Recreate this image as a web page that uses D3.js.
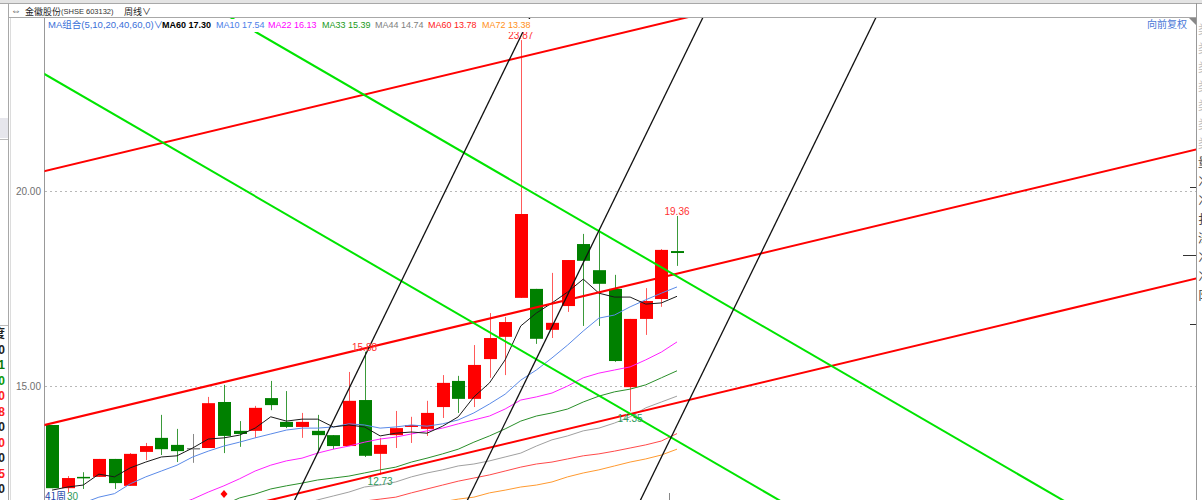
<!DOCTYPE html>
<html>
<head>
<meta charset="utf-8">
<script src="https://cdn.jsdelivr.net/npm/d3@7"></script>
<style>
  html, body { margin: 0; padding: 0; background: #fff; }
  svg { display: block; font-family: "Liberation Sans", "Noto Sans CJK SC", sans-serif; }
</style>
</head>
<body>
<div id="chart"></div>
<script>
// weekly candles (index 0 = leftmost visible week)
var opens  = [14.00,12.38,12.67,12.67,13.13,12.44,13.31,13.67,13.49,13.41,13.41,14.59,13.85,13.85,14.69,14.08,13.95,13.85,13.74,13.46,14.64,13.26,13.74,13.95,13.90,14.46,15.13,14.67,15.69,16.26,17.26,17.49,16.44,17.05,18.64,17.97,17.49,14.97,16.72,17.23,18.46];
var closes = [12.38,12.64,12.66,13.13,12.51,13.26,13.46,13.38,13.33,13.41,14.56,13.72,13.77,14.44,14.51,13.95,14.08,13.74,13.46,14.62,13.21,13.49,13.92,14.00,14.31,15.08,14.67,15.54,16.23,16.64,19.41,16.21,16.62,18.23,18.21,17.62,15.64,16.72,17.18,18.49,18.41];
var highs  = [14.00,12.69,12.79,13.13,13.13,13.28,13.54,14.26,13.90,13.77,14.72,15.03,14.10,14.49,15.13,14.87,14.31,14.26,13.74,15.36,15.88,13.67,14.36,14.21,14.62,15.28,15.26,16.05,16.87,16.77,23.87,17.49,17.90,18.23,18.90,19.03,17.85,16.72,17.51,18.51,19.36];
var lows   = [12.38,12.26,12.36,12.67,12.36,12.44,13.10,13.23,13.05,13.03,13.41,13.28,13.44,13.67,14.38,13.92,13.67,13.28,13.38,13.46,13.18,12.73,13.41,13.54,13.72,14.18,14.31,14.46,15.21,15.28,17.26,16.08,16.23,16.90,16.54,16.54,15.62,14.35,16.31,17.03,18.08];

// moving averages (null = below the visible area)
var maBlack  = [12.33,12.41,12.46,12.74,12.67,12.90,13.05,13.18,13.21,13.41,13.64,13.67,13.74,13.92,14.21,14.10,14.15,14.15,13.95,14.00,13.95,13.72,13.79,13.82,13.79,13.97,14.21,14.72,15.08,15.67,16.54,16.87,17.13,17.41,17.74,17.38,17.28,17.28,17.10,17.13,17.30];
var maBlue   = [null,null,12.00,12.15,12.24,12.49,12.67,12.82,12.97,13.18,13.33,13.46,13.56,13.67,13.77,13.87,13.92,13.92,13.95,14.03,14.00,13.92,13.95,14.00,13.97,14.03,14.13,14.31,14.54,14.79,15.15,15.41,15.72,16.05,16.41,16.74,16.82,17.03,17.21,17.38,17.54];
var maPink   = [null,null,null,null,null,null,null,null,11.95,12.10,12.28,12.44,12.62,12.82,12.97,13.08,13.15,13.28,13.38,13.46,13.56,13.64,13.69,13.77,13.85,13.92,14.03,14.13,14.23,14.41,14.64,14.72,14.82,15.00,15.21,15.33,15.41,15.49,15.67,15.87,16.13];
var maGreen  = [null,null,null,null,null,null,null,null,null,null,null,11.95,12.13,12.23,12.36,12.44,12.51,12.59,12.64,12.69,12.77,12.85,12.92,13.05,13.15,13.26,13.38,13.56,13.72,13.90,14.10,14.23,14.31,14.41,14.59,14.74,14.85,14.92,15.03,15.21,15.39];
var maGray   = [null,null,null,null,null,null,null,null,null,null,null,null,null,null,null,null,11.97,12.08,12.18,12.28,12.41,12.46,12.54,12.67,12.77,12.85,12.95,13.00,13.08,13.18,13.28,13.46,13.62,13.72,13.85,13.92,14.05,14.21,14.44,14.59,14.74];
var maRed    = [null,null,null,null,null,null,null,null,null,null,null,null,null,null,null,null,null,null,null,11.96,12.05,12.10,12.15,12.26,12.36,12.46,12.56,12.64,12.72,12.82,12.92,13.00,13.05,13.13,13.21,13.26,13.33,13.41,13.49,13.59,13.78];
var maOrange = [null,null,null,null,null,null,null,null,null,null,null,null,null,null,null,null,null,null,null,null,null,null,null,null,11.96,12.03,12.10,12.15,12.26,12.33,12.41,12.46,12.54,12.67,12.77,12.85,12.95,13.05,13.13,13.23,13.38];

// legend
var legendNames  = ['MA60','MA10','MA22','MA33','MA44','MA60','MA72'];
var legendValues = ['17.30','17.54','16.13','15.39','14.74','13.78','13.38'];

// drawn trend lines: [week index, price] endpoints
var redChannel   = [[[-1,20.46],[74,27.65]], [[-1,13.95],[74,21.14]], [[-1,10.64],[74,17.83]]];
var greenChannel = [[[-1,27.34],[74,9.91]], [[-1,23.12],[74,5.69]]];
var blackFan     = [[[14,10.82],[32,25.61]], [[25,10.77],[43,25.55]], [[36,10.71],[54,25.49]]];

// marked extremes
var markIndex = [30,40,20,21,37];
var markValue = ['23.87','19.36','15.88','12.73','14.35'];
var markIsHigh = [true,true,true,false,false];

var yTicks = [20, 15];

var W = 1202, H = 500;
var plotL = 44, plotR = 1196, plotT = 18, plotB = 500;

var svg = d3.select('#chart').append('svg')
	.attr('width', W)
	.attr('height', H);

svg.append('rect').attr('width', W).attr('height', H).attr('fill', '#fff');

var x = d3.scaleLinear().domain([0, 40]).range([52, 677]);
var y = d3.scaleLinear().domain([15, 20]).range([386, 191]);

svg.append('clipPath').attr('id', 'plotclip')
	.append('rect')
	.attr('x', plotL + 0.5).attr('y', plotT)
	.attr('width', plotR - plotL - 0.5).attr('height', plotB - plotT);

// top strip and title row
svg.append('rect').attr('x', 0).attr('y', 0).attr('width', W).attr('height', 3).attr('fill', '#e4e4e4');
svg.append('line').attr('x1', 0).attr('x2', W).attr('y1', 3.5).attr('y2', 3.5).attr('stroke', '#a8a8a8');
svg.append('line').attr('x1', 8).attr('x2', plotR).attr('y1', 17.5).attr('y2', 17.5).attr('stroke', '#a8a8a8');
svg.append('text').attr('x', 11).attr('y', 14).attr('font-size', 10).attr('fill', '#333').text('⇔');
svg.append('text').attr('x', 25).attr('y', 14.5)
	.attr('font-family', '"Noto Sans CJK SC", sans-serif').attr('font-size', 9).attr('fill', '#222')
	.text('金徽股份');
svg.append('text').attr('x', 61).attr('y', 14).attr('font-size', 7.5).attr('fill', '#333').text('(SHSE 603132)');
svg.append('text').attr('x', 124).attr('y', 14.5)
	.attr('font-family', '"Noto Sans CJK SC", sans-serif').attr('font-size', 9).attr('fill', '#222')
	.text('周线∨');

// left edge panels
svg.append('line').attr('x1', 8.5).attr('x2', 8.5).attr('y1', 3).attr('y2', H).attr('stroke', '#a8a8a8');
svg.append('line').attr('x1', 10.5).attr('x2', 10.5).attr('y1', 18).attr('y2', H).attr('stroke', '#dcdcdc');
svg.append('rect').attr('x', 0).attr('y', 118).attr('width', 8).attr('height', 20).attr('fill', '#e6e6ec');
svg.append('line').attr('x1', 0).attr('x2', 8).attr('y1', 139.5).attr('y2', 139.5).attr('stroke', '#bbb');
svg.append('line').attr('x1', 0).attr('x2', 8).attr('y1', 325.5).attr('y2', 325.5).attr('stroke', '#bbb');
var leftDigits = ['度','0','1','0','0','8','0','0','0','5','0'];
var leftColors = ['#222','#222','#0a7a0a','#0a9a0a','#ff2020','#ff2020','#222','#ff2020','#222','#ff2020','#222'];
svg.selectAll('.ld').data(leftDigits).enter().append('text')
	.attr('class', 'ld')
	.attr('x', 5).attr('y', function(d, i) { return 338 + i * 15.5; })
	.attr('text-anchor', 'end').attr('font-size', 12).attr('font-weight', 'bold')
	.attr('fill', function(d, i) { return leftColors[i]; })
	.text(function(d) { return d; });

// axis line and grid
svg.append('line').attr('x1', plotL + 0.5).attr('x2', plotL + 0.5).attr('y1', plotT).attr('y2', H).attr('stroke', '#999');
svg.append('line').attr('x1', plotR + 0.5).attr('x2', plotR + 0.5).attr('y1', 3).attr('y2', H).attr('stroke', '#999');

svg.selectAll('.grid').data(yTicks).enter().append('line')
	.attr('class', 'grid')
	.attr('x1', plotL + 1).attr('x2', plotR)
	.attr('y1', function(d) { return Math.round(y(d)) + 0.5; })
	.attr('y2', function(d) { return Math.round(y(d)) + 0.5; })
	.attr('stroke', '#b8b8b8').attr('stroke-dasharray', '2,3');

svg.selectAll('.ylab').data(yTicks).enter().append('text')
	.attr('class', 'ylab')
	.attr('x', 41).attr('y', function(d) { return y(d) + 3.5; })
	.attr('text-anchor', 'end').attr('font-size', 10).attr('fill', '#707070')
	.text(function(d) { return d3.format('.2f')(d); });

// right-side ticks and panel
[187, 255, 324].forEach(function(v, i) {
	svg.append('line').attr('x1', i == 1 ? 1183 : 1190).attr('x2', plotR)
		.attr('y1', v + 0.5).attr('y2', v + 0.5).attr('stroke', '#333');
});
var rightChars = ['类','类','类','类','类','类','类','量','冫','冫','扌','涤','冫','冫','阝'];
svg.selectAll('.rc').data(rightChars).enter().append('text')
	.attr('class', 'rc')
	.attr('x', 1198).attr('y', function(d, i) { return 34 + i * 19; })
	.attr('font-family', '"Noto Sans CJK SC", sans-serif').attr('font-size', 12)
	.attr('fill', function(d, i) { return i < 7 ? '#bbb' : '#444'; })
	.text(function(d) { return d; });
svg.append('path').attr('d', 'M1189,18L1196,18L1196,25Z').attr('fill', '#888');
svg.append('text').attr('x', 1187).attr('y', 28).attr('text-anchor', 'end')
	.attr('font-family', '"Noto Sans CJK SC", sans-serif').attr('font-size', 10).attr('fill', '#4a78d8')
	.text('向前复权');

var plot = svg.append('g').attr('clip-path', 'url(#plotclip)');

// candles
var idx = d3.range(opens.length);
function candleColor(i) {
	if (closes[i] > opens[i]) return '#ff0000';
	if (closes[i] < opens[i]) return '#008000';
	return '#888888';
}
function wickColor(i) {
	if (closes[i] > opens[i]) return '#ff5a5a';
	if (closes[i] < opens[i]) return '#3a9a3a';
	return '#888888';
}
var candle = plot.selectAll('.candle').data(idx).enter().append('g').attr('class', 'candle');
candle.append('line')
	.attr('x1', function(i) { return Math.round(x(i)) + 0.5; })
	.attr('x2', function(i) { return Math.round(x(i)) + 0.5; })
	.attr('y1', function(i) { return y(highs[i]); })
	.attr('y2', function(i) { return y(lows[i]); })
	.attr('stroke', wickColor).attr('stroke-width', 1);
candle.append('rect')
	.attr('x', function(i) { return Math.round(x(i)) - 6; })
	.attr('width', 13)
	.attr('y', function(i) { return y(Math.max(opens[i], closes[i])); })
	.attr('height', function(i) { return Math.max(1.5, Math.abs(y(opens[i]) - y(closes[i]))); })
	.attr('fill', candleColor);

// moving averages
var maLine = d3.line()
	.defined(function(d) { return d != null; })
	.x(function(d, i) { return x(i); })
	.y(function(d) { return y(d); });
var maSeries = [maOrange, maRed, maGray, maGreen, maPink, maBlue, maBlack];
var maColors = ['#ff9a30', '#ff4a4a', '#a0a0a0', '#2a8f2a', '#ff20ff', '#5a8ae8', '#1a1a1a'];
plot.selectAll('.ma').data(maSeries).enter().append('path')
	.attr('class', 'ma')
	.attr('d', maLine)
	.attr('fill', 'none')
	.attr('stroke', function(d, i) { return maColors[i]; })
	.attr('stroke-width', 1);

// trend lines
var segLine = d3.line()
	.x(function(d) { return x(d[0]); })
	.y(function(d) { return y(d[1]); });
plot.selectAll('.tl-red').data(redChannel).enter().append('path')
	.attr('class', 'tl-red').attr('d', segLine)
	.attr('stroke', '#ff0000').attr('stroke-width', 2).attr('fill', 'none');
plot.selectAll('.tl-green').data(greenChannel).enter().append('path')
	.attr('class', 'tl-green').attr('d', segLine)
	.attr('stroke', '#00e400').attr('stroke-width', 2).attr('fill', 'none');
plot.selectAll('.tl-black').data(blackFan).enter().append('path')
	.attr('class', 'tl-black').attr('d', segLine)
	.attr('stroke', '#111').attr('stroke-width', 1.3).attr('fill', 'none');

// extreme labels
svg.selectAll('.mark').data(markIndex).enter().append('text')
	.attr('class', 'mark')
	.attr('x', function(d) { return x(d); })
	.attr('y', function(d, i) {
		return markIsHigh[i] ? y(highs[d]) - 1 : y(lows[d]) + 10.5;
	})
	.attr('text-anchor', 'middle').attr('font-size', 10)
	.attr('fill', function(d, i) { return markIsHigh[i] ? '#ff3030' : '#2e9a5a'; })
	.text(function(d, i) { return markValue[i]; });

// bottom-left stray texts and marker
svg.append('text').attr('x', 45).attr('y', 500)
	.attr('font-family', '"Noto Sans CJK SC", sans-serif').attr('font-size', 10).attr('fill', '#2244aa')
	.text('41周');
svg.append('text').attr('x', 67).attr('y', 500).attr('font-size', 10).attr('fill', '#2e9a5a').text('30');
svg.append('path').attr('d', 'M224,490L227.5,494L224,498L220.5,494Z').attr('fill', '#ff0000');
svg.append('line').attr('x1', 669.5).attr('x2', 669.5).attr('y1', 493).attr('y2', 500).attr('stroke', '#888');

// legend row
var legend = svg.append('g');
legend.append('rect').attr('x', plotL + 1).attr('y', plotT + 1).attr('width', 490).attr('height', 13).attr('fill', '#fff');
legend.append('text').attr('x', 48).attr('y', 28)
	.attr('font-family', '"Liberation Sans", "Noto Sans CJK SC", sans-serif')
	.attr('font-size', 9.5).attr('fill', '#3a6fd8')
	.text('MA组合(5,10,20,40,60,0)∨');
var legendX = [162, 216, 268, 322, 375, 428, 482];
var legendColors = ['#000', '#4a7ee8', '#ff00ff', '#1a9a1a', '#808080', '#ff2020', '#ff9020'];
legend.selectAll('.lg').data(legendNames).enter().append('text')
	.attr('class', 'lg')
	.attr('x', function(d, i) { return legendX[i]; })
	.attr('y', 28)
	.attr('font-size', 9)
	.attr('font-weight', function(d, i) { return i == 0 ? 'bold' : 'normal'; })
	.attr('fill', function(d, i) { return legendColors[i]; })
	.text(function(d, i) { return d + ' ' + legendValues[i]; });
</script>
</body>
</html>
